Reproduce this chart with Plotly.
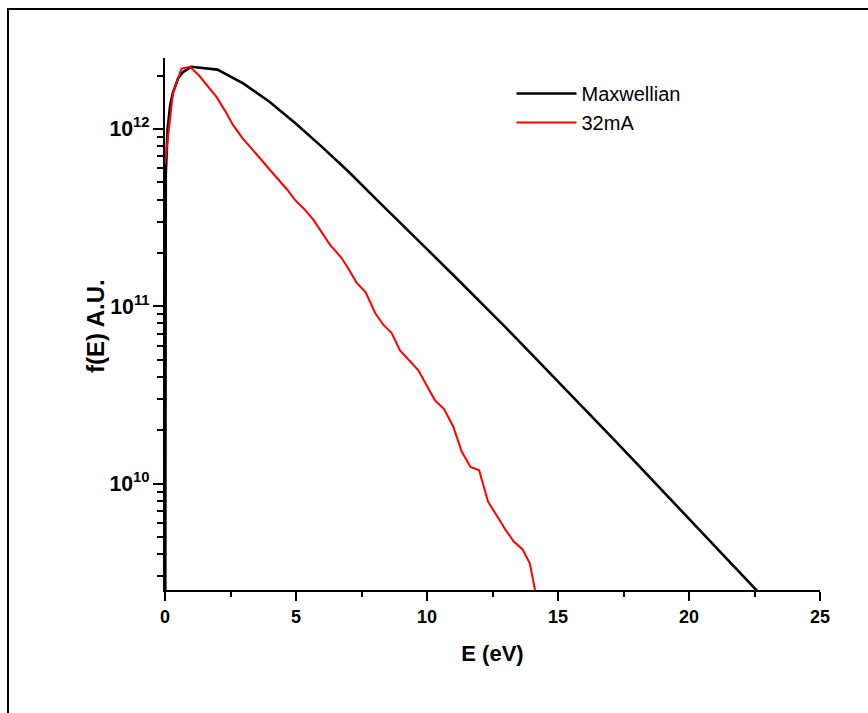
import plotly.graph_objects as go

# Maxwellian curve
max_E = [0.0, 0.01, 0.03, 0.1, 0.2, 0.3, 0.5, 0.7, 1, 2, 3, 4, 5, 6, 7, 8, 9, 10, 11, 12,
         13, 14, 15, 16, 17, 18, 19, 20, 21, 22, 23]
max_f = [1e8, 3.2e11, 5.6e11, 1.0e12, 1.37e12, 1.6e12, 1.93e12, 2.1e12, 2.24e12, 2.16e12,
         1.8e12, 1.42e12, 1.07e12, 7.9e11, 5.75e11, 4.1e11, 2.95e11, 2.1e11, 1.5e11, 1.07e11,
         7.6e10, 5.35e10, 3.77e10, 2.65e10, 1.86e10, 1.3e10, 9.1e9, 6.35e9, 4.45e9, 3.1e9, 2.15e9]

# 32mA measured curve
ma_E = [0.0, 0.3, 0.63, 0.95, 1.3, 1.65, 1.97, 2.3, 2.6, 2.95, 3.3, 3.6, 3.95, 4.3, 4.65,
        4.96, 5.3, 5.66, 5.98, 6.3, 6.52, 6.74, 6.99, 7.31, 7.66, 8.02, 8.33, 8.65, 8.97,
        9.29, 9.67, 10.0, 10.31, 10.65, 11.0, 11.32, 11.66, 11.99, 12.33, 12.65, 13.0,
        13.31, 13.64, 13.92, 14.2]
ma_f = [6.31e11, 1.585e12, 2.19e12, 2.24e12, 2.0e12, 1.74e12, 1.51e12, 1.26e12, 1.05e12,
        8.9e11, 7.8e11, 6.9e11, 6.0e11, 5.25e11, 4.57e11, 3.98e11, 3.55e11, 3.08e11, 2.63e11,
        2.22e11, 2.04e11, 1.87e11, 1.64e11, 1.36e11, 1.2e11, 9.16e10, 7.87e10, 7.06e10,
        5.64e10, 5.04e10, 4.35e10, 3.55e10, 2.94e10, 2.63e10, 2.1e10, 1.52e10, 1.24e10,
        1.19e10, 7.91e9, 6.65e9, 5.48e9, 4.71e9, 4.27e9, 3.56e9, 2.2e9]

series_names = ["Maxwellian", "32mA"]
x_ticks = [0, 5, 10, 15, 20, 25]
x_title = "E (eV)"
y_title = "f(E) A.U."

FONT = "Arial, Liberation Sans, Helvetica, sans-serif"

fig = go.Figure()
fig.add_trace(go.Scatter(x=max_E, y=max_f, mode="lines", name=series_names[0],
                         line=dict(color="black", width=2.6)))
fig.add_trace(go.Scatter(x=ma_E, y=ma_f, mode="lines", name=series_names[1],
                         line=dict(color="#ff0000", width=2)))

fig.update_layout(
    width=868, height=713,
    margin=dict(l=165, r=48, t=58, b=123),
    paper_bgcolor="white", plot_bgcolor="white",
    font=dict(family=FONT, color="black"),
    showlegend=True,
    legend=dict(x=0.529, y=0.97, xanchor="left", yanchor="top", itemwidth=60,
                font=dict(family=FONT, size=20, color="black"),
                bgcolor="rgba(0,0,0,0)", tracegroupgap=0),
    xaxis=dict(
        range=[0, 25], tickvals=x_ticks, ticks="outside", ticklen=9, tickwidth=2,
        tickcolor="black", showline=True, linewidth=2, linecolor="black",
        showgrid=False, zeroline=False,
        tickfont=dict(family=FONT, size=18, color="black", weight="bold"),
        minor=dict(ticks="outside", ticklen=5, tickwidth=2, tickcolor="black", dtick=2.5, showgrid=False),
        title=dict(text="<b>" + x_title + "</b>", font=dict(family=FONT, size=22, color="black"), standoff=20),
    ),
    yaxis=dict(
        type="log", range=[9.4, 12.4], dtick=1, exponentformat="power", showexponent="all",
        ticks="outside", ticklen=10, tickwidth=2, tickcolor="black",
        showline=True, linewidth=2, linecolor="black", showgrid=False, zeroline=False,
        tickfont=dict(family=FONT, size=17, color="black", weight="bold"),
        minor=dict(ticks="outside", ticklen=6, tickwidth=2, tickcolor="black", dtick="D1", showgrid=False),
    ),
    annotations=[dict(text="<b>" + y_title + "</b>", xref="paper", yref="paper",
                      x=(95 - 165) / 655, y=(590 - 326) / 532, xanchor="center", yanchor="middle",
                      textangle=-90, showarrow=False,
                      font=dict(family=FONT, size=24, color="black"))],
    shapes=[dict(type="rect", xref="paper", yref="paper",
                 x0=(8 - 165) / 655, x1=(872 - 165) / 655,
                 y0=(590 - 716) / 532, y1=(590 - 9) / 532,
                 line=dict(color="black", width=2), fillcolor="rgba(0,0,0,0)", layer="below")],
)

fig.write_html("out.html")
